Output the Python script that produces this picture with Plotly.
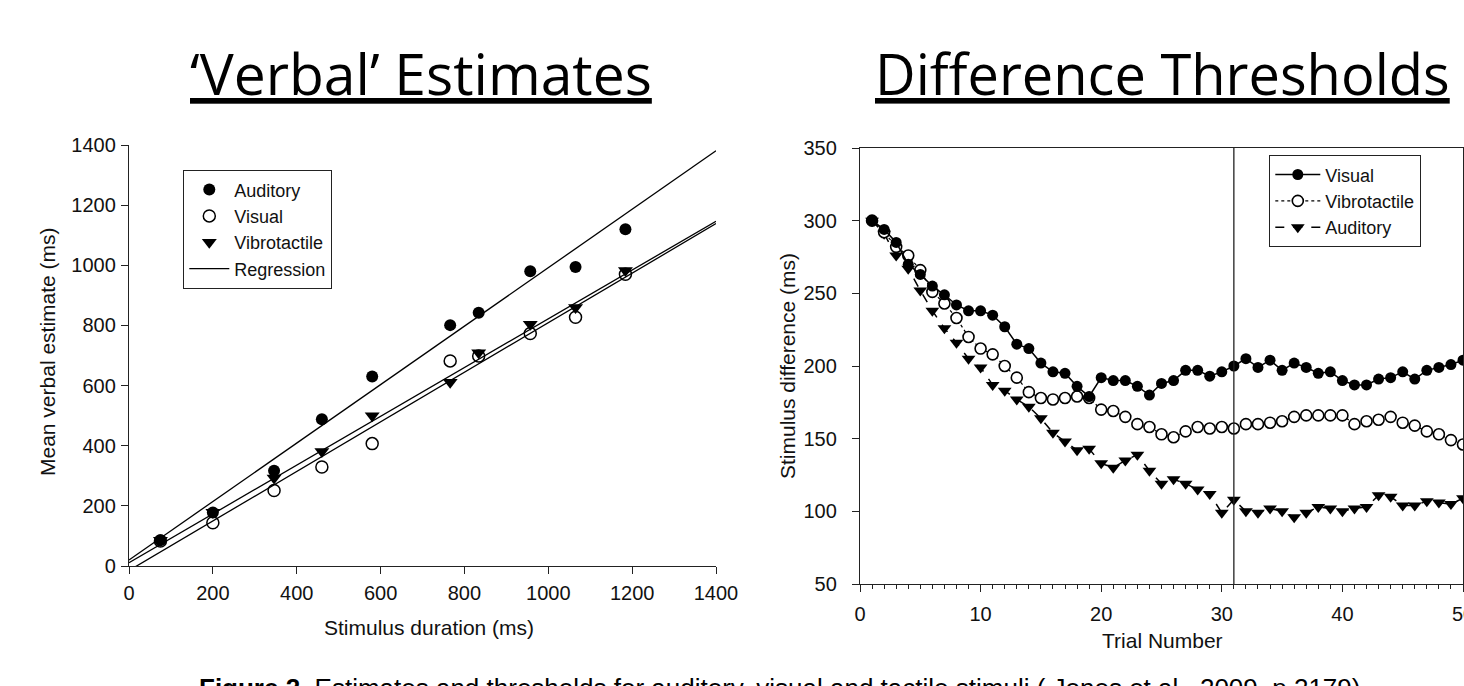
import plotly.graph_objects as go

W, H = 1464, 686

# ---------------- Left panel data: 'Verbal' estimates ----------------
durations = [75, 200, 346, 460, 580, 766, 834, 957, 1065, 1184]
auditory_est = [86, 178, 317, 488, 630, 801, 842, 980, 994, 1120]
visual_est = [83, 144, 251, 329, 407, 682, 698, 773, 827, 970]
vibro_est = [86, 179, 293, 381, 500, 611, 709, 804, 860, 983]

# regression lines (intercept, slope) per modality
reg_names = ["Auditory", "Vibrotactile", "Visual"]
reg_intercepts = [20, 11, -15]
reg_slopes = [0.972, 0.811, 0.824]
reg_x_range = [0, 1400]

# ---------------- Right panel data: difference thresholds ----------------
trials = list(range(1, 51))
visual_thr = [300, 294, 285, 270, 263, 255, 249, 242, 238, 238,
              235, 227, 215, 212, 202, 196, 195, 186, 179, 192,
              190, 190, 186, 180, 188, 190, 197, 197, 193, 196,
              200, 205, 199, 204, 197, 202, 199, 195, 196, 190,
              187, 187, 191, 192, 196, 191, 197, 199, 201, 204]
vibro_thr = [300, 292, 282, 276, 266, 251, 243, 233, 220, 212,
             208, 200, 192, 182, 178, 177, 178, 179, 178, 170,
             169, 165, 160, 158, 153, 151, 155, 158, 157, 158,
             157, 160, 160, 161, 162, 165, 166, 166, 166, 166,
             160, 162, 163, 165, 161, 159, 155, 153, 149, 146]
audit_thr = [300, 291, 276, 267, 252, 238, 226, 216, 205, 199,
             187, 183, 177, 172, 164, 154, 148, 142, 143, 133,
             130, 135, 139, 128, 119, 122, 119, 115, 112, 99,
             108, 100, 99, 102, 100, 96, 99, 103, 102, 100,
             102, 103, 111, 110, 104, 104, 107, 106, 105, 109]
marker_trial = 31

# ---------------- helpers (screen pixel -> paper); body margin removed by post script ----------------
def px(x):
    return x / W

def py(y):
    return (H - y) / H

FAM = "Liberation Sans, Arial, sans-serif"
TICK_FONT = dict(family=FAM, size=20, color="#111111")
TITLE_AX_FONT = dict(family=FAM, size=21, color="#111111")

fig = go.Figure()

# ---- Left panel traces ----
fig.add_trace(go.Scatter(x=durations, y=auditory_est, mode="markers", name="Auditory",
                         marker=dict(symbol="circle", size=12, color="black"),
                         xaxis="x", yaxis="y", legend="legend"))
fig.add_trace(go.Scatter(x=durations, y=visual_est, mode="markers", name="Visual",
                         marker=dict(symbol="circle-open", size=12, color="black",
                                     line=dict(width=1.5, color="black")),
                         xaxis="x", yaxis="y", legend="legend"))
fig.add_trace(go.Scatter(x=durations, y=vibro_est, mode="markers", name="Vibrotactile",
                         marker=dict(symbol="triangle-down", size=13, color="black"),
                         xaxis="x", yaxis="y", legend="legend"))
for i, (b0, b1) in enumerate(zip(reg_intercepts, reg_slopes)):
    fig.add_trace(go.Scatter(x=reg_x_range, y=[b0 + b1 * v for v in reg_x_range],
                             mode="lines", name="Regression",
                             line=dict(color="black", width=1.3),
                             showlegend=(i == 0),
                             xaxis="x", yaxis="y", legend="legend"))

# ---- Right panel traces ----
fig.add_trace(go.Scatter(x=trials, y=audit_thr, mode="lines+markers", name="Auditory",
                         line=dict(color="black", width=1.5, dash="dash"),
                         marker=dict(symbol="triangle-down", size=12, color="black"),
                         xaxis="x2", yaxis="y2", legend="legend2", legendrank=3))
fig.add_trace(go.Scatter(x=trials, y=vibro_thr, mode="lines+markers", name="Vibrotactile",
                         line=dict(color="black", width=1.2, dash="dot"),
                         marker=dict(symbol="circle", size=11, color="white",
                                     line=dict(width=1.6, color="black")),
                         xaxis="x2", yaxis="y2", legend="legend2", legendrank=2))
fig.add_trace(go.Scatter(x=trials, y=visual_thr, mode="lines+markers", name="Visual",
                         line=dict(color="black", width=1.5),
                         marker=dict(symbol="circle", size=11, color="black"),
                         xaxis="x2", yaxis="y2", legend="legend2", legendrank=1))

fig.add_shape(type="line", xref="x2", yref="y2 domain", x0=marker_trial, x1=marker_trial,
              y0=0, y1=1, line=dict(color="#222222", width=1.3))

# ---- Axes ----
axis_common = dict(showgrid=False, zeroline=False, showline=True, linecolor="#222222",
                   linewidth=1.3, ticks="outside", ticklen=7, tickwidth=1.2,
                   tickcolor="#222222", tickfont=TICK_FONT, automargin=False,
                   ticklabeloverflow="allow")

fig.update_layout(
    width=W, height=H, margin=dict(l=0, r=0, t=0, b=0, autoexpand=False),
    paper_bgcolor="white", plot_bgcolor="white",
    xaxis=dict(domain=[px(129), px(716)], range=[0, 1400], tickvals=[0, 200, 400, 600, 800, 1000, 1200, 1400],
               anchor="y", ticklabelstandoff=2, **axis_common),
    yaxis=dict(domain=[py(566), py(145)], range=[0, 1400], tickvals=[0, 200, 400, 600, 800, 1000, 1200, 1400],
               anchor="x", ticklabelstandoff=1, **axis_common),
    xaxis2=dict(domain=[px(860), px(1463)], range=[0, 50], tickvals=[0, 10, 20, 30, 40, 50],
                anchor="y2", mirror=True, ticklabelstandoff=5,
                minor=dict(dtick=1, ticklen=4, ticks="outside", tickcolor="#222222", tickwidth=1),
                **axis_common),
    yaxis2=dict(domain=[py(584), py(148)], range=[50, 350], tickvals=[50, 100, 150, 200, 250, 300, 350],
                anchor="x2", mirror=True, ticklabelstandoff=11, **axis_common),
    legend=dict(x=px(183), y=py(170), xanchor="left", yanchor="top",
                bgcolor="white", bordercolor="#222222", borderwidth=1.3,
                font=dict(family=FAM, size=18, color="#111111"),
                itemwidth=40, tracegroupgap=0),
    legend2=dict(x=px(1269), y=py(155), xanchor="left", yanchor="top",
                 bgcolor="white", bordercolor="#222222", borderwidth=1.3,
                 font=dict(family=FAM, size=18, color="#111111"),
                 itemwidth=45, traceorder="normal"),
    showlegend=True,
)

# ---- Titles, axis titles, caption ----
TITLE_FONT = dict(family="Open Sans, Noto Sans, sans-serif", size=56, color="black", lineposition="under")
fig.add_annotation(text="\u2018Verbal\u2019 Estimates", xref="paper", yref="paper",
                   x=px(421.5), y=py(73), xanchor="center", yanchor="middle",
                   showarrow=False, font=dict(TITLE_FONT, size=57))
fig.add_annotation(text="Difference Thresholds", xref="paper", yref="paper",
                   x=px(1162.5), y=py(73), xanchor="center", yanchor="middle",
                   showarrow=False, font=TITLE_FONT)

fig.add_annotation(text="Stimulus duration (ms)", xref="paper", yref="paper",
                   x=px(429), y=py(627), xanchor="center", yanchor="middle",
                   showarrow=False, font=TITLE_AX_FONT)
fig.add_annotation(text="Mean verbal estimate (ms)", xref="paper", yref="paper",
                   x=px(47), y=py(352), xanchor="center", yanchor="middle", textangle=-90,
                   showarrow=False, font=TITLE_AX_FONT)
fig.add_annotation(text="Stimulus difference (ms)", xref="paper", yref="paper",
                   x=px(787), y=py(366), xanchor="center", yanchor="middle", textangle=-90,
                   showarrow=False, font=TITLE_AX_FONT)
fig.add_annotation(text="Trial Number", xref="paper", yref="paper",
                   x=px(1162), y=py(640), xanchor="center", yanchor="middle",
                   showarrow=False, font=TITLE_AX_FONT)

fig.add_annotation(text="<b>Figure 2.</b> Estimates and thresholds for auditory, visual and tactile stimuli ( Jones et al., 2009, p.2179)",
                   xref="paper", yref="paper", x=px(779), y=py(688), xanchor="center", yanchor="middle",
                   showarrow=False,
                   font=dict(family=FAM, size=26, color="black"))

fig.write_html("out.html",
               config={"displayModeBar": False},
               post_script="document.body.style.margin='0';"
                           "document.body.style.overflow='hidden';"
                           "document.documentElement.style.overflow='hidden';")
